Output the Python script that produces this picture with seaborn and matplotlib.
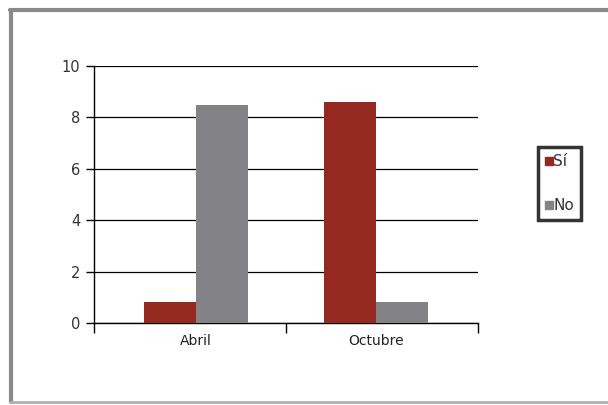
import matplotlib
matplotlib.use("Agg")
import matplotlib.pyplot as plt
from matplotlib.lines import Line2D
import seaborn as sns
import pandas as pd

# data
meses = ["Abril", "Octubre"]
respuestas = ["Sí", "No"]
valores_si = [0.8, 8.6]
valores_no = [8.5, 0.8]
colores = ["#942a1f", "#828287"]

df = pd.DataFrame({
    "mes": meses * 2,
    "respuesta": [respuestas[0]] * 2 + [respuestas[1]] * 2,
    "valor": valores_si + valores_no,
})

sns.set_style("white")
plt.rcParams['font.family'] = ['DejaVu Sans']

fig = plt.figure(figsize=(6.08, 4.05), dpi=100)
ax = fig.add_axes([94 / 608, 1 - 323 / 405, (478 - 94) / 608, (323 - 66) / 405])

sns.barplot(data=df, x="mes", y="valor", hue="respuesta", palette=colores,
            width=0.578, saturation=1, linewidth=0, ax=ax, legend=False, zorder=3)

ax.set_ylim(0, 10)
ax.set_xlim(-0.567, 1.567)
ax.set_yticks([0, 2, 4, 6, 8, 10])
ax.yaxis.grid(True, color="black", lw=0.9, zorder=0)
ax.set_axisbelow(True)
ax.set_xlabel("")
ax.set_ylabel("")

for s in ["top", "right"]:
    ax.spines[s].set_visible(False)
for s in ["left", "bottom"]:
    ax.spines[s].set_color("black")
    ax.spines[s].set_linewidth(1)

ax.tick_params(axis="y", direction="out", length=6, width=1, color="black",
               labelsize=10.5, labelcolor="#333333", pad=4, left=True)
ax.set_xticks([0, 1])
ax.set_xticklabels(meses)
ax.tick_params(axis="x", length=0, labelsize=10, labelcolor="#222222", pad=8)
ax.set_xticks([-0.567, 0.5, 1.567], minor=True)
ax.tick_params(axis="x", which="minor", direction="out", length=7, width=1,
               color="black", bottom=True)

handles = [Line2D([0], [0], marker="s", color="none", markerfacecolor=c,
                  markeredgecolor=c, markersize=6) for c in colores]
leg = fig.legend(handles, respuestas, loc="upper left",
                 bbox_to_anchor=(538 / 608, 1 - 147 / 405),
                 frameon=True, fancybox=False, fontsize=11,
                 handlelength=0.5, handletextpad=0.05, labelspacing=1.9,
                 borderpad=0.45, borderaxespad=0)
leg.get_frame().set_edgecolor("black")
leg.get_frame().set_linewidth(2.5)
for t in leg.get_texts():
    t.set_color("#333333")

# outer gray frame
fig.add_artist(Line2D([10 / 608, 1], [1 - 10 / 405] * 2, color="#8a8a8a", lw=3,
                      transform=fig.transFigure))
fig.add_artist(Line2D([11 / 608] * 2, [1 - 10 / 405, 1 - 402 / 405], color="#8a8a8a",
                      lw=3, transform=fig.transFigure))
fig.add_artist(Line2D([10 / 608, 1], [1 - 402 / 405] * 2, color="#b0b0b0", lw=2,
                      transform=fig.transFigure))

fig.savefig("out.png", dpi=100)
